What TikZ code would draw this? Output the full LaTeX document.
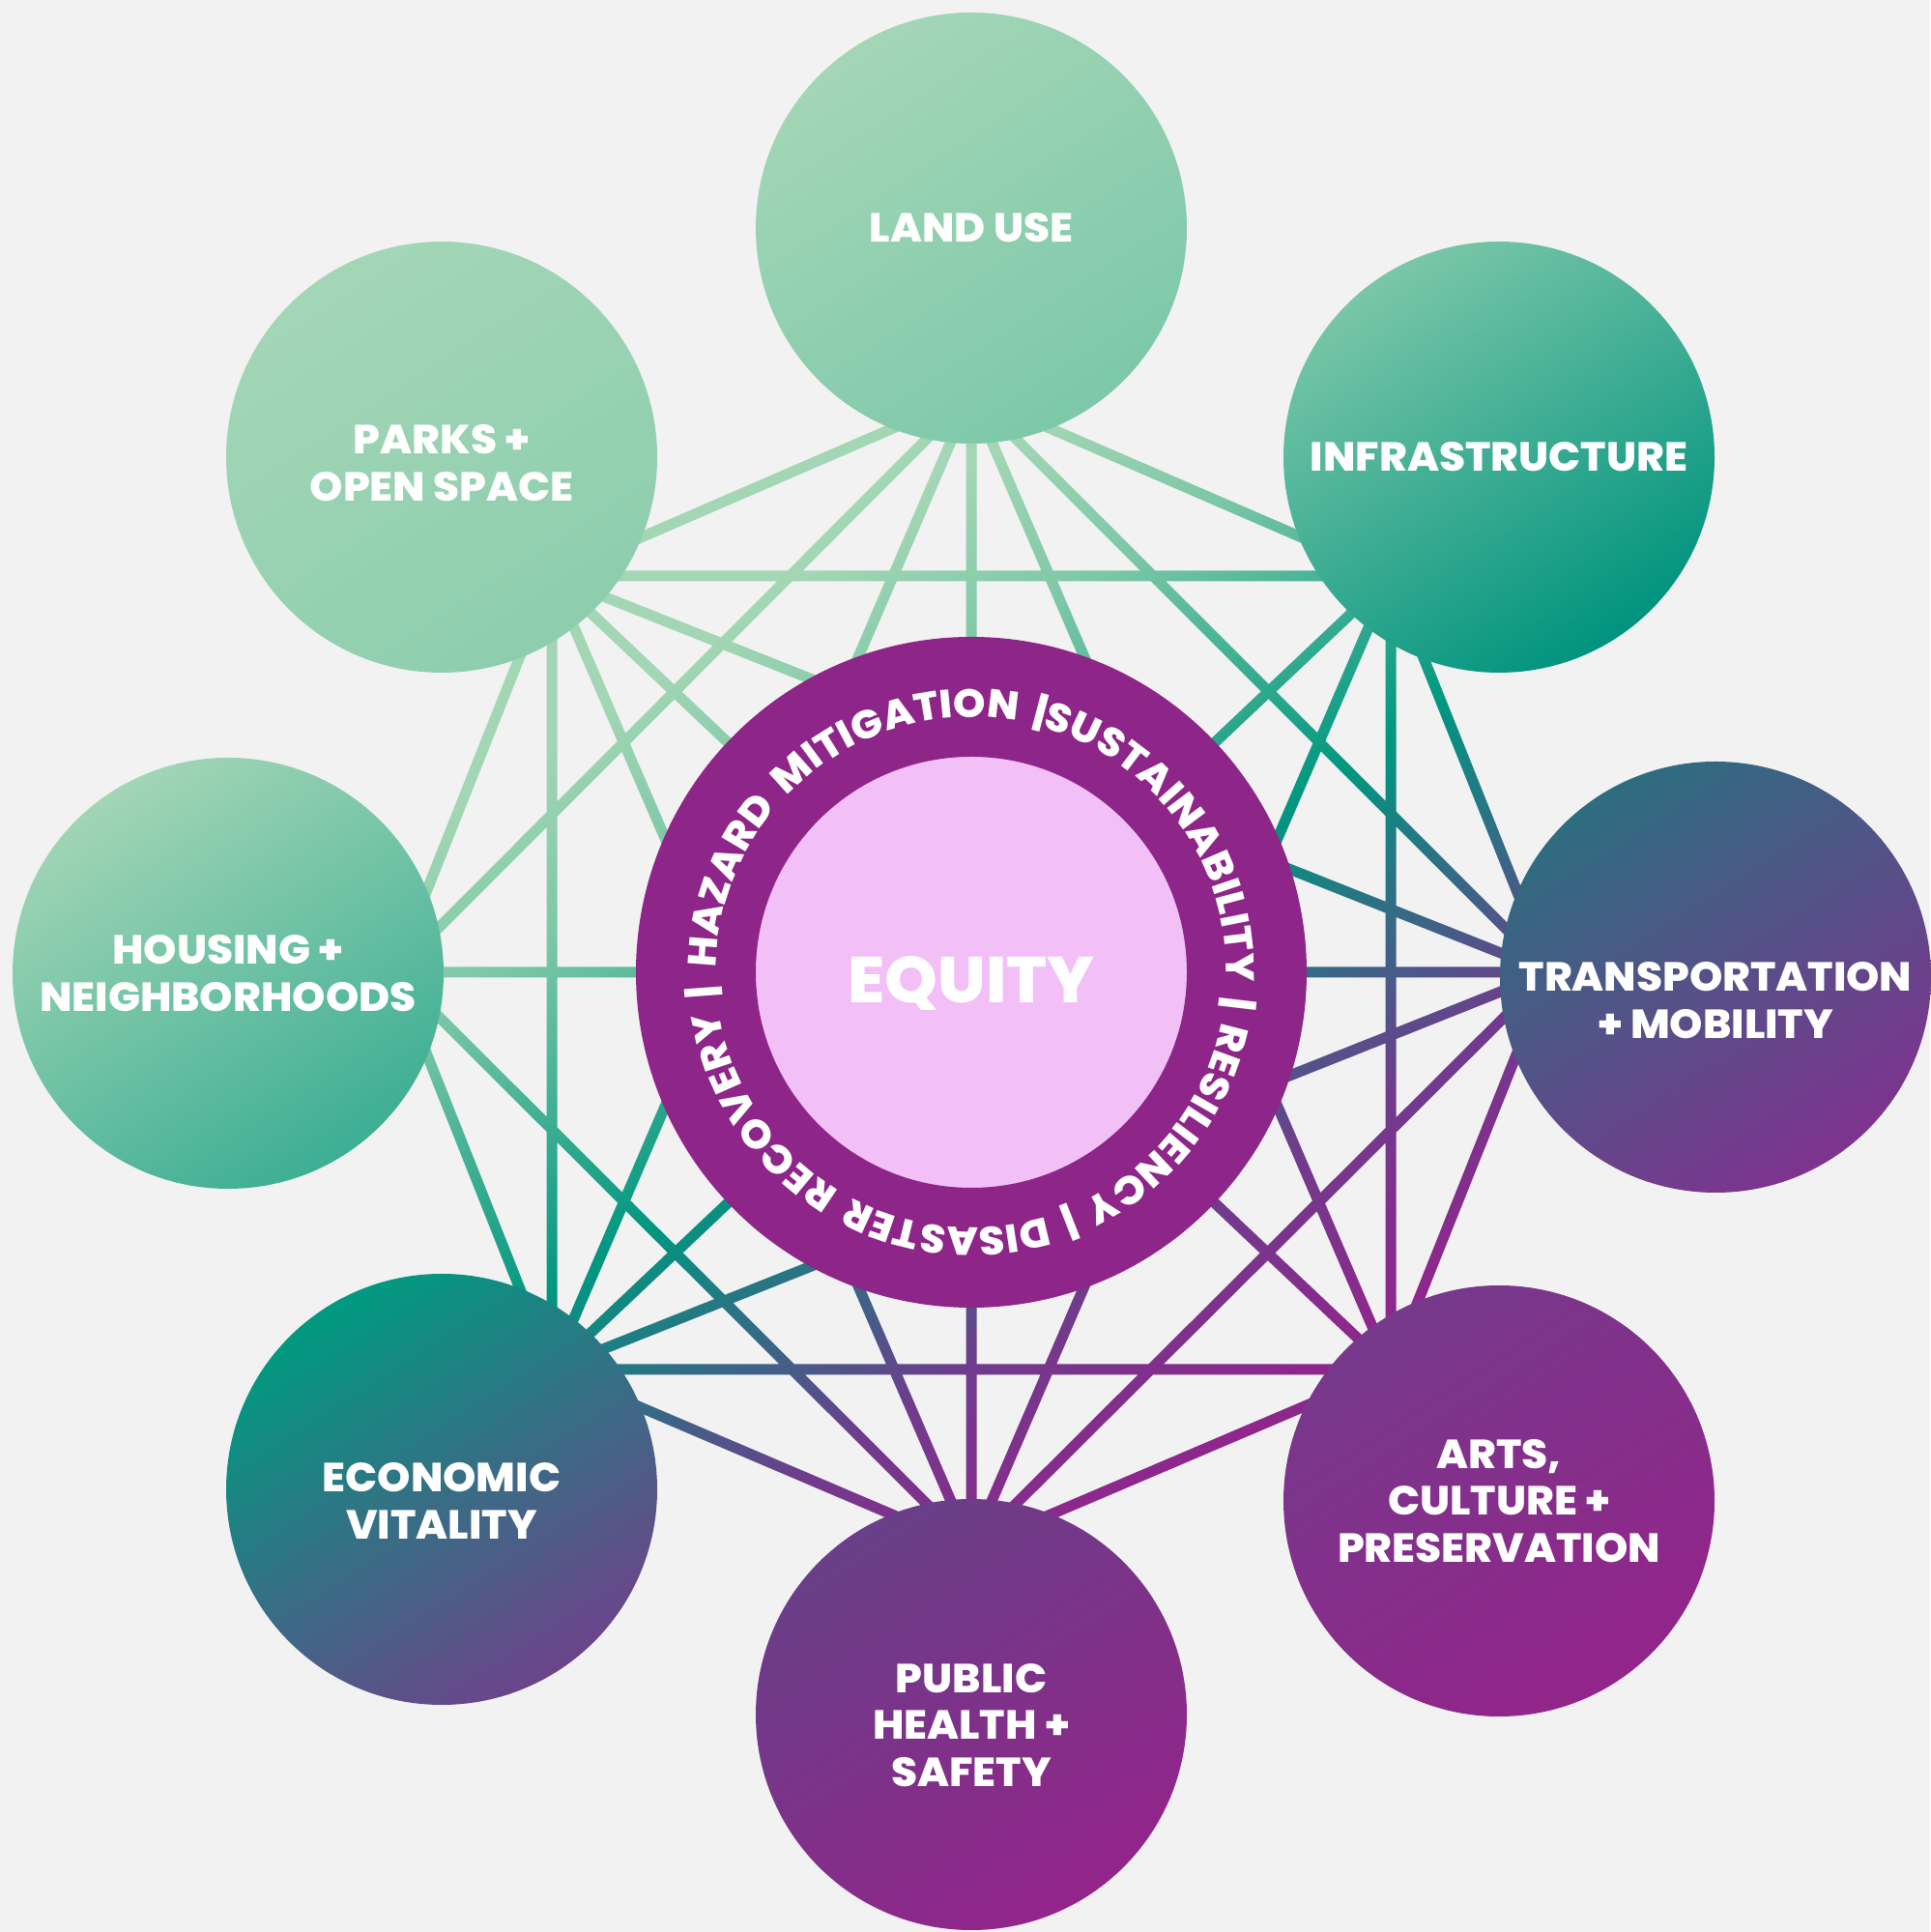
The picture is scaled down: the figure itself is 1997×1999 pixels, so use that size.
\documentclass[tikz,border=0pt]{standalone}
\usepackage{fontspec}
\setmainfont{Poppins}[BoldFont=* ExtraBold, FakeStretch=1.04]
\usepackage{xcolor}
\usepackage{tikz}
\usetikzlibrary{calc,backgrounds,decorations.text}
\definecolor{bg}{HTML}{F2F2F2}
\definecolor{ringpurple}{HTML}{8E2588}
\definecolor{corepink}{HTML}{F2C0F6}
% colours of the network gradient
\definecolor{netmint}{HTML}{A2D6B4}
\definecolor{netsage}{HTML}{7CC7A7}
\definecolor{netteal}{HTML}{00977F}
\definecolor{netslate}{HTML}{465C88}
\definecolor{netplum}{HTML}{703B8C}
\definecolor{netgrape}{HTML}{8E278C}
% colours of the topic circles (upper left / lower right)
\definecolor{landtl}{HTML}{A3D6B6}
\definecolor{landbr}{HTML}{7DC8AA}
\definecolor{parkstl}{HTML}{A3D6B6}
\definecolor{parksbr}{HTML}{8DCEAE}
\definecolor{infratl}{HTML}{7AC6A8}
\definecolor{infrabr}{HTML}{00937E}
\definecolor{housingtl}{HTML}{A1D5B5}
\definecolor{housingbr}{HTML}{3DAE94}
\definecolor{transtl}{HTML}{2E6D80}
\definecolor{transbr}{HTML}{7E338F}
\definecolor{artstl}{HTML}{76398B}
\definecolor{artsbr}{HTML}{93248A}
\definecolor{healthtl}{HTML}{683F88}
\definecolor{healthbr}{HTML}{93248A}
\definecolor{econtl}{HTML}{009A80}
\definecolor{econbr}{HTML}{6C448A}
\pgfdeclarehorizontalshading{netfade}{100bp}{color(0bp)=(netmint); color(42.85bp)=(netmint);
  color(45.62bp)=(netsage); color(50.77bp)=(netteal); color(54.15bp)=(netslate);
  color(55.87bp)=(netplum); color(59.03bp)=(netgrape); color(100bp)=(netgrape)}
\newcommand{\ringtext}{\bfseries\fontsize{41}{41}\selectfont}
\newcommand{\padtop}[1]{\rule{0pt}{#1}}
\tikzset{
  topic/.style={circle, minimum size=446pt, inner sep=0pt, align=center, text=white,
    font=\bfseries\fontsize{42}{48.5}\selectfont},
  fade/.style 2 args={top color=#1, bottom color=#2, shading angle=33},
  equity/.style={circle, fill=corepink, draw=ringpurple, line width=124pt, minimum size=570pt,
    inner sep=0pt, text=white, font=\bfseries\fontsize{67}{70}\selectfont},
}

\begin{document}
\begin{tikzpicture}[x=1pt, y=1pt]
  \useasboundingbox (0,0) rectangle (1997,1999);
  \def\hw{5.5pt}

  \node[equity] (eq) at (1005,993) {\padtop{71pt}EQUITY};
  \node[topic, fade={landtl}{landbr}] (land) at (1005,1763) {LAND USE};
  \node[topic, fade={infratl}{infrabr}] (infra) at (1551,1526) {INFRASTRUCTURE};
  \node[topic, fade={transtl}{transbr}] (trans) at (1775,988) {\padtop{78pt}TRANSPORTATION\\+ MOBILITY};
  \node[topic, fade={artstl}{artsbr}] (arts) at (1551,446) {ARTS,\\CULTURE +\\PRESERVATION};
  \node[topic, fade={healthtl}{healthbr}] (health) at (1005,225) {\padtop{52pt}PUBLIC\\HEALTH +\\SAFETY};
  \node[topic, fade={econtl}{econbr}] (econ) at (457,458) {\padtop{54pt}ECONOMIC\\VITALITY};
  \node[topic, fade={housingtl}{housingbr}] (housing) at (236,992) {HOUSING +\\NEIGHBORHOODS};
  \node[topic, fade={parkstl}{parksbr}] (parks) at (457,1526) {\padtop{42pt}PARKS +\\OPEN SPACE};

  \path[decorate, decoration={text along path, text format delimiters={[}{]},
      text={[\ringtext]HAZARD MITIGATION |SUSTAINABILITY | RESILIENCY | DISASTER RECOVERY |},
      text align={fit to path stretching spaces}, text color=white}]
    ($(eq.center)+(179:264)$) arc[start angle=179, delta angle=-356, radius=264];

  % where the links meet inside the circles
  \coordinate (land-a) at (1005,1591);
  \coordinate (infra-a) at (1439,1403);
  \coordinate (trans-a) at (1603,993);
  \coordinate (arts-a) at (1439,582);
  \coordinate (health-a) at (1005,397);
  \coordinate (econ-a) at (571,582);
  \coordinate (housing-a) at (408,993);
  \coordinate (parks-a) at (571,1403);

  \begin{pgfonlayer}{background}
    \fill[bg] (0,0) rectangle (1997,1999);
    % every link is a thin band, all bands share one gradient
    \begin{scope}
      \clip \foreach \a/\b in {land/infra, land/trans, land/arts, land/health, land/econ, land/housing, land/parks,
          infra/trans, infra/arts, infra/health, infra/econ, infra/parks,
          trans/arts, trans/health, trans/econ, trans/housing, trans/parks,
          arts/health, arts/econ, arts/parks,
          health/econ, health/housing, health/parks,
          econ/housing, econ/parks, housing/parks} {
        ($(\a-a)!\hw!90:(\b-a)$) -- ($(\b-a)!\hw!-90:(\a-a)$) -- ($(\b-a)!\hw!90:(\a-a)$) -- ($(\a-a)!\hw!-90:(\b-a)$) -- cycle
      };
      \shade[shading=netfade, shading angle=-56.6] (-500,-500) rectangle (2500,2500);
    \end{scope}
  \end{pgfonlayer}
\end{tikzpicture}
\end{document}
